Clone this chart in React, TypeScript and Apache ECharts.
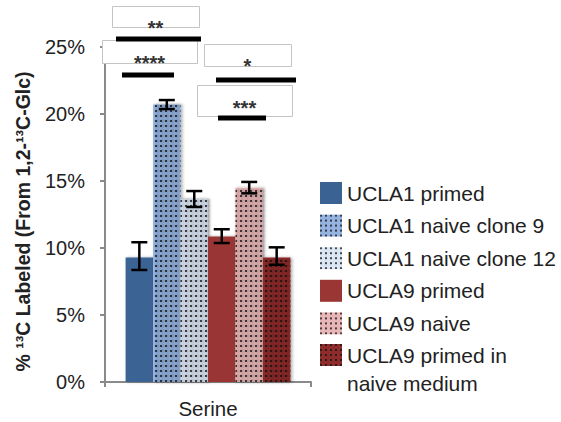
import React, { useEffect, useRef } from 'react';
import * as echarts from 'echarts';

// ---- data ----
const categories = ['Serine'];
const seriesNames = [
  'UCLA1 primed',
  'UCLA1 naive clone 9',
  'UCLA1 naive clone 12',
  'UCLA9 primed',
  'UCLA9 naive',
  'UCLA9 primed in\nnaive medium',
];
const values = [9.3, 20.7, 13.65, 10.85, 14.5, 9.3];
const errLow = [8.36, 20.37, 13.06, 10.37, 14.08, 8.75];
const errHigh = [10.43, 21.04, 14.25, 11.4, 14.93, 10.05];
const sigLabels = ['**', '****', '*', '***'];
const yAxisTitle = '% ¹³C Labeled (From 1,2-¹³C-Glc)';
const yMax = 25;
const yStep = 5;

// ---- styles / layout ----
const colors = ['#3a6394', '#94b3e0', '#dbe6f4', '#9a3634', '#e8b6b6', '#8e2c2b'];
const dotted = [false, true, true, false, true, true];
const sigBoxes = [
  { x: 112, y: 6, w: 87, h: 21, ty: 24, line: [116, 201, 39] },
  { x: 102, y: 40, w: 95, h: 23, ty: 59, line: [122, 174, 75] },
  { x: 204, y: 44, w: 87, h: 22, ty: 62, line: [216, 296, 80] },
  { x: 197, y: 85, w: 95, h: 31, ty: 104, line: [218, 266, 118] },
];
const FONT = 'Liberation Sans, Arial, Helvetica, sans-serif';
const GAP = 0.2;

export default function App() {
  const ref = useRef<HTMLDivElement>(null);
  useEffect(() => {
    document.body.style.margin = '0';
    if (!ref.current) return;
    const chart = echarts.init(ref.current, undefined, { renderer: 'svg' });
    const n = seriesNames.length;

    const barSeries = seriesNames.map((name, i) => ({
      name,
      type: 'bar',
      data: [values[i]],
      barGap: '0%',
      barCategoryGap: GAP * 100 + '%',
      itemStyle: {
        color: colors[i],
        shadowBlur: 3,
        shadowColor: 'rgba(0,0,0,0.3)',
        shadowOffsetX: 1.5,
        shadowOffsetY: 0,
        decal: dotted[i]
          ? {
              symbol: 'rect',
              symbolSize: 1,
              dashArrayX: [1.3, 2.1],
              dashArrayY: [1.3, 2.1],
              color: 'rgba(20,20,20,0.75)',
              rotation: 0,
            }
          : 'none',
      },
      z: 2,
    }));

    const errData = values.map((_, i) => [0, errLow[i], errHigh[i], i]);

    const errSeries = {
      name: 'err',
      type: 'custom',
      z: 5,
      clip: false,
      encode: { x: 0, y: [1, 2] },
      data: errData,
      renderItem: (params: any, api: any) => {
        const lo = api.value(1);
        const hi = api.value(2);
        const i = api.value(3);
        const band = api.size([1, 0])[0];
        const pLo = api.coord([0, lo]);
        const pHi = api.coord([0, hi]);
        const barW = (band * (1 - GAP)) / n;
        const cx = pLo[0] - (band * (1 - GAP)) / 2 + (i + 0.5) * barW;
        const half = 8;
        const st = { stroke: '#000', lineWidth: 2.5 };
        return {
          type: 'group',
          children: [
            { type: 'line', shape: { x1: cx, y1: pLo[1], x2: cx, y2: pHi[1] }, style: st },
            { type: 'line', shape: { x1: cx - half, y1: pLo[1], x2: cx + half, y2: pLo[1] }, style: st },
            { type: 'line', shape: { x1: cx - half, y1: pHi[1], x2: cx + half, y2: pHi[1] }, style: st },
          ],
        };
      },
    };

    const graphics: any[] = [];
    graphics.push({
      type: 'text',
      z: 50,
      x: 23,
      y: 221.5,
      rotation: Math.PI / 2,
      style: {
        text: yAxisTitle,
        fontSize: 19.5,
        fontWeight: 'bold',
        fontFamily: FONT,
        fill: '#222',
        align: 'center',
        verticalAlign: 'middle',
      },
    });
    sigBoxes.forEach((b, k) => {
      graphics.push({
        type: 'rect',
        z: 100,
        shape: { x: b.x + 0.5, y: b.y + 0.5, width: b.w, height: b.h },
        style: { fill: '#fff', stroke: '#c4c4c4', lineWidth: 1 },
      });
      graphics.push({
        type: 'text',
        z: 101,
        x: b.x + b.w / 2,
        y: b.ty + 4,
        style: {
          text: sigLabels[k],
          fontSize: 20,
          fontWeight: 'bold',
          fontFamily: FONT,
          fill: '#333',
          align: 'center',
          verticalAlign: 'middle',
        },
      });
    });
    sigBoxes.forEach((b) => {
      graphics.push({
        type: 'line',
        z: 102,
        shape: { x1: b.line[0], y1: b.line[2], x2: b.line[1], y2: b.line[2] },
        style: { stroke: '#000', lineWidth: 5 },
      });
    });

    const legendBase = {
      orient: 'vertical',
      left: 320,
      padding: 0,
      itemWidth: 22,
      itemHeight: 22,
      itemGap: 10.6,
      icon: 'rect',
      selectedMode: false,
      itemStyle: { shadowBlur: 0, shadowOffsetX: 0 },
    };

    chart.setOption({
      animation: false,
      textStyle: { fontFamily: FONT },
      grid: { left: 105, right: 250, top: 47, bottom: 40, containLabel: false },
      legend: [
        {
          ...legendBase,
          top: 182,
          textStyle: { fontSize: 21, color: '#222', lineHeight: 22, fontFamily: FONT },
          data: seriesNames.slice(0, n - 1),
        },
        {
          ...legendBase,
          top: 313,
          formatter: ' \n{name}',
          textStyle: { fontSize: 21, color: '#222', lineHeight: 28, fontFamily: FONT },
          data: seriesNames.slice(n - 1),
        },
      ],
      xAxis: {
        type: 'category',
        data: categories,
        axisLine: { lineStyle: { color: '#8a8a8a', width: 2 } },
        axisTick: { show: true, length: 5, lineStyle: { color: '#8a8a8a', width: 2 } },
        axisLabel: { fontSize: 20.5, color: '#222', margin: 16, fontFamily: FONT },
      },
      yAxis: {
        type: 'value',
        min: 0,
        max: yMax,
        interval: yStep,
        axisLine: { show: true, lineStyle: { color: '#8a8a8a', width: 2 } },
        axisTick: { show: true, length: 5, lineStyle: { color: '#8a8a8a', width: 2 } },
        splitLine: { show: false },
        axisLabel: {
          fontSize: 20,
          color: '#222',
          margin: 20,
          fontFamily: FONT,
          formatter: '{value}%',
        },
      },
      series: [...barSeries, errSeries],
      graphic: graphics,
    });
    return () => chart.dispose();
  }, []);
  return <div ref={ref} style={{ width: 561, height: 422 }} />;
}
